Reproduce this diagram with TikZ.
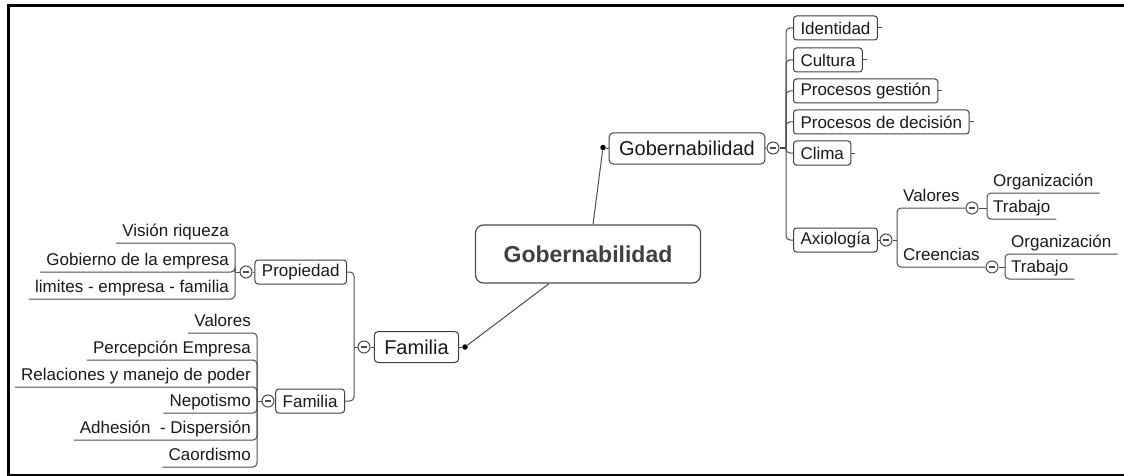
\documentclass[tikz,border=0pt]{standalone}
\usepackage{fontspec}
\setmainfont{Liberation Sans}

\newcommand\mmroot{\fontsize{23}{27}\selectfont\bfseries}
\newcommand\mmtopic{\fontsize{20}{24}\selectfont}
\newcommand\mmsub{\fontsize{17}{20}\selectfont}

\tikzset{
  link/.style={draw=black!70, line width=1pt, rounded corners=4pt},
  central/.style={draw=black!70, line width=1.2pt, rounded corners=8pt, fill=white,
    minimum width=225pt, minimum height=58pt, font=\mmroot, text=black!75},
  topic/.style={draw=black!75, line width=1pt, rounded corners=4pt, fill=white,
    minimum height=31pt, inner xsep=10pt, inner ysep=0pt, font=\mmtopic, text=black!90},
  subtopic/.style={draw=black!75, line width=1pt, rounded corners=3pt, fill=white,
    minimum height=24pt, inner xsep=7pt, inner ysep=0pt, font=\mmsub, text=black!90},
  leaf/.style={inner xsep=6pt, inner ysep=2pt, text height=13pt, text depth=4pt,
    font=\mmsub, text=black!90},
  fold/.style={circle, draw=black!70, fill=white, line width=1pt, minimum size=12pt,
    inner sep=0pt, path picture={\draw[black!70, line width=1.1pt]
      ([xshift=2.8pt]path picture bounding box.west) --
      ([xshift=-2.8pt]path picture bounding box.east);}},
  knob/.style={circle, fill=black, inner sep=0pt, minimum size=5.5pt},
}

\begin{document}
\begin{tikzpicture}[x=1pt, y=-1pt]
  \useasboundingbox (0,0) rectangle (1124,476);
  % frame
  \draw[line width=3pt] (8.5,476) -- (8.5,5.5) -- (1124,5.5);
  \draw[line width=1.5pt] (8.5,475) -- (1124,475);

  \node[central] (root) at (588,254) {Gobernabilidad};

  % right branch
  \node[topic] (gob) at (687,148.5) {Gobernabilidad};
  \node[knob] (gobdot) at (603,147.5) {};
  \node[fold] (gobfold) at (773,148) {};
  \coordinate (gobj) at (786,148);

  \node[subtopic, anchor=west] (ident) at (793,28) {Identidad};
  \node[subtopic, anchor=west] (cult) at (793,60) {Cultura};
  \node[subtopic, anchor=west] (pgest) at (793,91) {Procesos gestión};
  \node[subtopic, anchor=west] (pdec) at (793,122) {Procesos de decisión};
  \node[subtopic, anchor=west] (clima) at (793,153) {Clima};
  \node[subtopic, anchor=west] (axio) at (793,240) {Axiología};

  \node[fold] (axfold) at (886,240) {};
  \coordinate (axj) at (897,240);
  \node[leaf, anchor=south west] (val) at (897,208) {Valores};
  \node[leaf, anchor=south west] (cre) at (897,267) {Creencias};
  \node[fold] (valfold) at (972,208) {};
  \node[fold] (crefold) at (992,267) {};
  \coordinate (valj) at (987,208);
  \coordinate (crej) at (1005,267);
  \node[leaf, anchor=south west] (vorg) at (987,193) {Organización};
  \node[leaf, anchor=south west] (vtra) at (987,219) {Trabajo};
  \node[leaf, anchor=south west] (corg) at (1005,254) {Organización};
  \node[leaf, anchor=south west] (ctra) at (1005,279) {Trabajo};

  % left branch
  \node[topic] (fam) at (416.5,347) {Familia};
  \node[knob] (famdot) at (465,347) {};
  \node[fold] (famfold) at (364,347) {};
  \coordinate (famj) at (354,347);

  \node[subtopic, anchor=east] (prop) at (347,272) {Propiedad};
  \node[subtopic, anchor=east] (fams) at (345,401) {Familia};
  \node[fold] (propfold) at (246,272) {};
  \coordinate (propj) at (235,272);
  \node[fold] (famsfold) at (268,401) {};
  \coordinate (famsj) at (257,401);

  \node[leaf, anchor=south east] (vis) at (235,243) {Visión riqueza};
  \node[leaf, anchor=south east] (gobemp) at (235,272) {Gobierno de la empresa};
  \node[leaf, anchor=south east] (lim) at (235,299) {limites - empresa - familia};

  \node[leaf, anchor=south east] (fval) at (257,333) {Valores};
  \node[leaf, anchor=south east] (perc) at (257,360) {Percepción Empresa};
  \node[leaf, anchor=south east] (rel) at (257,387) {Relaciones y manejo de poder};
  \node[leaf, anchor=south east] (nep) at (257,413) {Nepotismo};
  \node[leaf, anchor=south east] (adh) at (257,440) {Adhesión \ - Dispersión};
  \node[leaf, anchor=south east] (caor) at (257,467) {Caordismo};

  % connectors
  \draw[link] ([xshift=5pt]root.north) -- (gobdot);
  \draw[link] (gobdot) -- (gob.west);
  \draw[link] (gob.east) -- (gobfold.west);
  \draw[link] (gobfold.east) -- (gobj);
  \foreach \n in {ident,cult,pgest,pdec,clima,axio}
    \draw[link] (gobj) |- (\n.west);
  \foreach \n in {ident,cult,pgest,pdec,clima}
    \draw[link] (\n.east) -- ++(4,0);
  \draw[link] (axio.east) -- (axfold.west);
  \draw[link] (axfold.east) -- (axj);
  \draw[link] (axj) |- (valfold.west);
  \draw[link] (axj) |- (crefold.west);
  \draw[link] (valfold.east) -- (valj);
  \draw[link] (crefold.east) -- (crej);
  \foreach \n in {vorg,vtra}
    \draw[link] (valj) |- (\n.south east);
  \foreach \n in {corg,ctra}
    \draw[link] (crej) |- (\n.south east);

  \draw[link] ([xshift=-39pt]root.south) -- (famdot);
  \draw[link] (famdot) -- (fam.east);
  \draw[link] (fam.west) -- (famfold.east);
  \draw[link] (famfold.west) -- (famj);
  \draw[link] (famj) |- (prop.east);
  \draw[link] (famj) |- (fams.east);
  \draw[link] (prop.west) -- (propfold.east);
  \draw[link] (propfold.west) -- (propj);
  \foreach \n in {vis,gobemp,lim}
    \draw[link] (propj) |- (\n.south west);
  \draw[link] (fams.west) -- (famsfold.east);
  \draw[link] (famsfold.west) -- (famsj);
  \foreach \n in {fval,perc,rel,nep,adh,caor}
    \draw[link] (famsj) |- (\n.south west);
\end{tikzpicture}
\end{document}
